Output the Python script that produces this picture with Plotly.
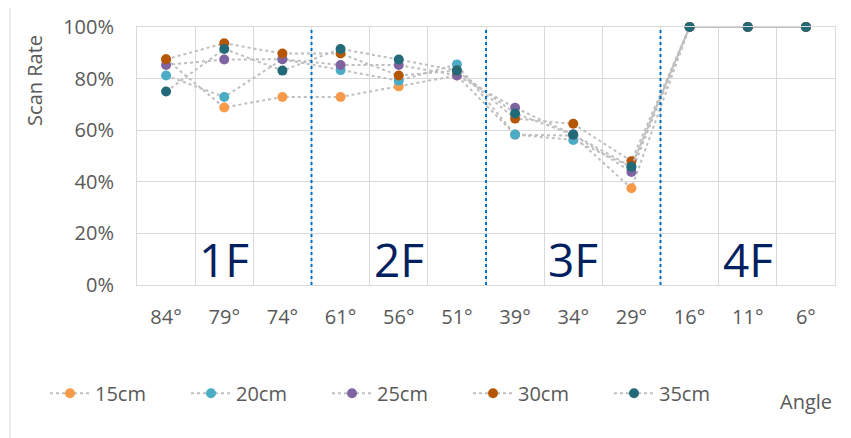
import plotly.graph_objects as go

angles = ["84°", "79°", "74°", "61°", "56°", "51°", "39°", "34°", "29°", "16°", "11°", "6°"]
floors = ["1F", "2F", "3F", "4F"]
series_names = ["15cm", "20cm", "25cm", "30cm", "35cm"]
s15 = [0.875, 0.688, 0.729, 0.729, 0.770, 0.812, 0.583, 0.579, 0.375, 1.0, 1.0, 1.0]
s20 = [0.812, 0.729, 0.875, 0.833, 0.792, 0.855, 0.583, 0.562, 0.458, 1.0, 1.0, 1.0]
s25 = [0.853, 0.874, 0.875, 0.853, 0.853, 0.812, 0.687, 0.583, 0.438, 1.0, 1.0, 1.0]
s30 = [0.875, 0.937, 0.897, 0.897, 0.812, 0.831, 0.645, 0.625, 0.480, 1.0, 1.0, 1.0]
s35 = [0.750, 0.915, 0.831, 0.915, 0.874, 0.831, 0.665, 0.583, 0.458, 1.0, 1.0, 1.0]
series_values = [s15, s20, s25, s30, s35]
colors = ["#F79A4A", "#4BACC6", "#8064A2", "#B65708", "#236A79"]

# page geometry (the html body adds an 8px offset)
OFF = 8
PAGE_W, PAGE_H = 851, 438
PL, PR, PT, PB = 137, 835, 27, 285.5   # plot area in page pixels
W, H = PAGE_W - OFF, PAGE_H - OFF
L, T = PL - OFF, PT - OFF
R = W - (PR - OFF)
B = H - (PB - OFF)
pw, ph = PR - PL, PB - PT

def px_x(x):
    return (x - PL) / pw

def px_y(y):
    return (PB - y) / ph

FONT = "Open Sans"
GRAY = "#595959"
FS = 20

fig = go.Figure()
for name, vals, col in zip(series_names, series_values, colors):
    fig.add_trace(go.Scatter(
        x=angles, y=vals, name=name, mode="lines+markers",
        line=dict(color="#BFBFBF", width=2, dash="dot"),
        marker=dict(color=col, size=10, line=dict(width=0)),
        cliponaxis=False,
    ))

shapes = []
per = len(angles) // len(floors)
for i in range(1, len(floors)):
    b = i * per - 0.5
    shapes.append(dict(type="line", xref="x", yref="paper", x0=b, x1=b, y0=0, y1=1,
                       line=dict(color="#0070C0", width=2, dash="dot"), layer="above"))
shapes.append(dict(type="rect", xref="paper", yref="paper",
                   x0=px_x(10), x1=px_x(PAGE_W + 5), y0=px_y(PAGE_H + 5), y1=px_y(5),
                   line=dict(color="#D9D9D9", width=1), layer="below"))

annotations = []
for i, f in enumerate(floors):
    annotations.append(dict(x=angles[i * per + per // 2], y=0.099, xref="x", yref="paper",
                            text=f, showarrow=False, yanchor="middle",
                            font=dict(family=FONT, size=46, color="#002060")))
annotations.append(dict(x=px_x(35), y=px_y(80), xref="paper", yref="paper", text="Scan Rate",
                        textangle=-90, showarrow=False, xanchor="center", yanchor="middle",
                        font=dict(family=FONT, size=FS, color=GRAY)))
annotations.append(dict(x=px_x(806), y=px_y(402), xref="paper", yref="paper", text="Angle",
                        showarrow=False, xanchor="center", yanchor="middle",
                        font=dict(family=FONT, size=FS, color=GRAY)))

fig.update_layout(
    width=W, height=H,
    margin=dict(l=L, r=R, t=T, b=B, pad=0, autoexpand=False),
    paper_bgcolor="white", plot_bgcolor="white",
    font=dict(family=FONT, size=FS, color=GRAY),
    showlegend=True,
    legend=dict(orientation="h", xref="paper", yref="paper",
                x=px_x(45), y=px_y(394), xanchor="left", yanchor="middle",
                entrywidth=86, entrywidthmode="pixels", itemwidth=40,
                bgcolor="rgba(0,0,0,0)",
                font=dict(family=FONT, size=FS, color=GRAY), traceorder="normal"),
    shapes=shapes, annotations=annotations,
    xaxis=dict(type="category", range=[-0.5, len(angles) - 0.5], tickson="boundaries",
               showgrid=True, gridcolor="#D9D9D9",
               gridwidth=1, showline=True, linecolor="#D9D9D9", mirror=True, ticks="",
               ticklabelstandoff=14, tickfont=dict(family=FONT, size=FS, color=GRAY),
               zeroline=False, automargin=False),
    yaxis=dict(range=[0, 1], dtick=0.2, tickformat=".0%", showgrid=True, gridcolor="#D9D9D9",
               showline=True, linecolor="#D9D9D9", mirror=True, ticks="",
               ticklabelstandoff=18, tickfont=dict(family=FONT, size=FS, color=GRAY),
               zeroline=False, automargin=False),
)

fig.write_html("out.html")
